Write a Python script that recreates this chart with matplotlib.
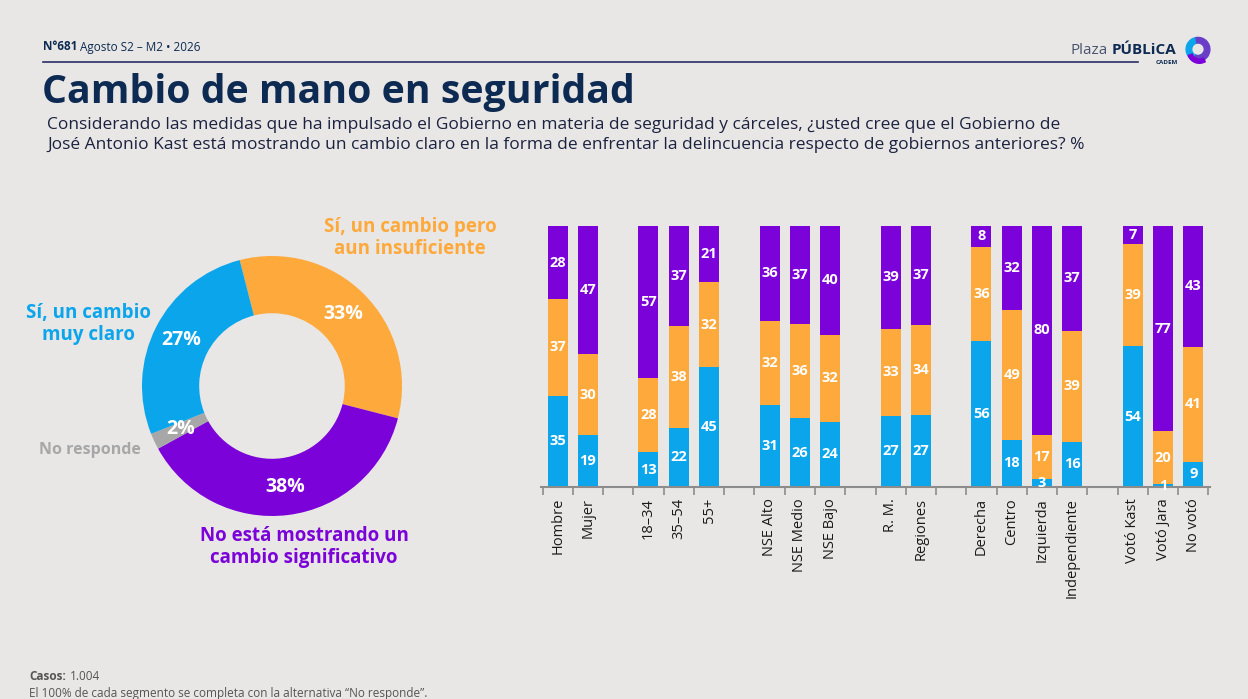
import matplotlib.pyplot as plt
import numpy as np
from matplotlib.patches import Wedge

W, H = 1248, 699
BG = '#E9E7E5'
NAVY = '#0D2B52'
BLUE = '#0BA5EC'
ORANGE = '#FDA93B'
PURPLE = '#7B02D8'
GRAY = '#A7A7A7'

# donut
donut_labels = ['Sí, un cambio pero\naun insuficiente', 'No está mostrando un\ncambio significativo',
                'No responde', 'Sí, un cambio\nmuy claro']
donut_values = [33, 38, 2, 27]
donut_colors = [ORANGE, PURPLE, GRAY, BLUE]

# stacked bars
categories = ['Hombre', 'Mujer', '', '18–34', '35–54', '55+', '', 'NSE Alto', 'NSE Medio', 'NSE Bajo', '',
              'R. M.', 'Regiones', '', 'Derecha', 'Centro', 'Izquierda', 'Independiente', '',
              'Votó Kast', 'Votó Jara', 'No votó']
muy_claro     = [35, 19, 0, 13, 22, 45, 0, 31, 26, 24, 0, 27, 27, 0, 56, 18, 3, 16, 0, 54, 1, 9]
insuficiente  = [37, 30, 0, 28, 38, 32, 0, 32, 36, 32, 0, 33, 34, 0, 36, 49, 17, 39, 0, 39, 20, 41]
no_cambio     = [28, 47, 0, 57, 37, 21, 0, 36, 37, 40, 0, 39, 37, 0, 8, 32, 80, 37, 0, 7, 77, 43]

plt.rcParams['font.family'] = ['Open Sans', 'DejaVu Sans']

fig = plt.figure(figsize=(W / 100, H / 100), dpi=100, facecolor=BG)


def fx(x):
    return x / W


def fy(y):
    return 1 - y / H


# header
fig.text(fx(43), fy(47), 'N°681', fontsize=8.5, fontweight='bold', color=NAVY, va='center')
fig.text(fx(80), fy(47), 'Agosto S2 – M2 • 2026', fontsize=8.5, color=NAVY, va='center')
fig.add_artist(plt.Line2D([fx(43), fx(1138)], [fy(62), fy(62)], color='#2A2E66', lw=1.2))
fig.text(fx(1071), fy(50), 'Plaza', fontsize=11, color='#4A5470', va='center')
fig.text(fx(1112), fy(50), 'PÚBLiCA', fontsize=11, fontweight='bold', color=NAVY, va='center')
fig.text(fx(1178), fy(62), 'CADEM', fontsize=4.5, fontweight='bold', color=NAVY, va='center', ha='right')
logo = fig.add_axes([fx(1184), fy(64), 28 / W, 28 / H])
logo.set_xlim(-1, 1)
logo.set_ylim(-1, 1)
logo.set_aspect('equal')
logo.axis('off')
logo.add_patch(Wedge((0, 0.05), 0.85, 100, 330, width=0.4, color=BLUE))
logo.add_patch(Wedge((0, 0.05), 0.85, -110, 100, width=0.4, color='#6A3FC8'))
logo.add_patch(Wedge((0.1, -0.1), 0.85, 200, 300, width=0.3, color=PURPLE))

fig.text(fx(42), fy(92), 'Cambio de mano en seguridad', fontsize=28.3, fontweight='bold', color=NAVY, va='center')
fig.text(fx(47), fy(125), 'Considerando las medidas que ha impulsado el Gobierno en materia de seguridad y cárceles, '
         '¿usted cree que el Gobierno de', fontsize=12.5, color='#1B2240', va='center')
fig.text(fx(47), fy(145), 'José Antonio Kast está mostrando un cambio claro en la forma de enfrentar la '
         'delincuencia respecto de gobiernos anteriores? %', fontsize=12.5, color='#1B2240', va='center')

# donut chart
R = 130
ax1 = fig.add_axes([fx(272 - 1.5 * R), fy(386 + 1.5 * R), 3 * R / W, 3 * R / H])
ax1.pie(donut_values, colors=donut_colors, startangle=104.4, counterclock=False,
        wedgeprops=dict(width=0.44, linewidth=0), autopct='%.0f%%', pctdistance=0.78,
        textprops=dict(color='white', fontsize=14, fontweight='bold'))
ax1.set_xlim(-1.5, 1.5)
ax1.set_ylim(-1.5, 1.5)
ax1.set_aspect('equal')
ax1.axis('off')

label_pos = [(410, 238), (304, 547), (90, 450), (88, 324)]
label_size = [13.5, 13.5, 11.5, 13.5]
for lab, col, (x, y), fs in zip(donut_labels, donut_colors, label_pos, label_size):
    fig.text(fx(x), fy(y), lab, color=col, fontsize=fs, fontweight='bold',
             ha='center', va='center', linespacing=1.1)

# bar chart
ax2 = fig.add_axes([fx(541), fy(487), (1210 - 541) / W, (487 - 226) / H])
ax2.set_facecolor(BG)
xs = np.arange(len(categories))
totals = np.array(muy_claro) + np.array(insuficiente) + np.array(no_cambio)
totals = np.where(totals == 0, 1, totals)
series = [muy_claro, insuficiente, no_cambio]
colors = [BLUE, ORANGE, PURPLE]
bottom = np.zeros(len(categories))
for vals, col in zip(series, colors):
    vals = np.array(vals)
    h = vals / totals * 100
    ax2.bar(xs, h, bottom=bottom, width=0.66, color=col, linewidth=0)
    for x, b, hh, v in zip(xs, bottom, h, vals):
        if v > 0:
            ax2.text(x, b + hh / 2, str(v), ha='center', va='center', color='white',
                     fontsize=10.5, fontweight='bold')
    bottom = bottom + h

ax2.set_xlim(-0.55, len(categories) - 0.45)
ax2.set_ylim(0, 100)
for s in ['top', 'right', 'left']:
    ax2.spines[s].set_visible(False)
ax2.spines['bottom'].set_color('#8C8C8C')
ax2.spines['bottom'].set_linewidth(1.5)
ax2.set_yticks([])
ax2.set_xticks(xs)
ax2.set_xticklabels(categories, rotation=90, fontsize=10.5, color='#1A1A1A')
ax2.tick_params(axis='x', which='major', length=0, pad=8)
ax2.set_xticks(np.arange(-0.5, len(categories), 1), minor=True)
ax2.tick_params(axis='x', which='minor', length=6, width=1.2, color='#8C8C8C')

# footer
fig.text(fx(29), fy(677), 'Casos:', fontsize=8.5, fontweight='bold', color='#555555', va='center')
fig.text(fx(70), fy(677), '1.004', fontsize=8.5, color='#555555', va='center')
fig.text(fx(29), fy(693), 'El 100% de cada segmento se completa con la alternativa “No responde”.',
         fontsize=8.5, color='#555555', va='center')

fig.savefig('out.png', dpi=100, facecolor=BG)
